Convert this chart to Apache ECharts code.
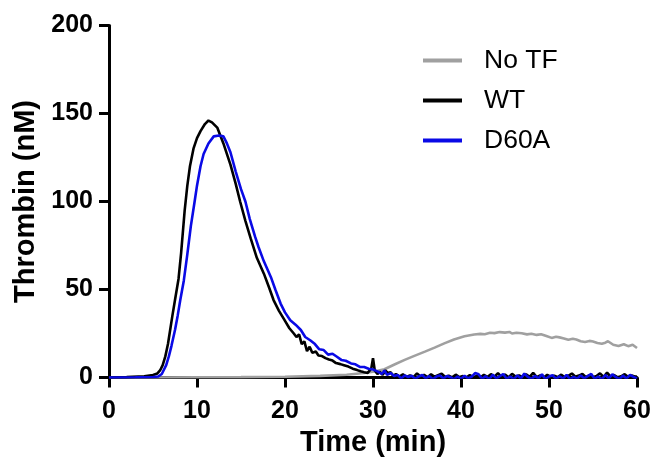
<!DOCTYPE html>
<html>
<head>
<meta charset="utf-8">
<script src="https://cdn.jsdelivr.net/npm/echarts@6/dist/echarts.min.js"></script>
<style>
  html, body { margin: 0; padding: 0; background: #fff; }
  #chart { width: 653px; height: 460px; }
</style>
</head>
<body>
<div id="chart"></div>
<script>
var chartDom = document.getElementById('chart');
var myChart = echarts.init(chartDom);

var seriesNames = ['No TF', 'WT', 'D60A'];
var seriesColors = ['#a0a0a0', '#000000', '#0a0ae6'];
var xTicks = [0, 10, 20, 30, 40, 50, 60];
var yTicks = [0, 50, 100, 150, 200];

// [time (min), thrombin (nM)]
var noTF = [[0,0],[5,0],[10,0.1],[15,0.2],[20,0.4],[24,0.9],[27,1.6],[29,2.6],[30,3.3],[31.3,4.7],
  [32.5,7.5],[33.6,10],[34.7,12.3],[35.9,14.7],[37,17],[38.1,19.4],[39.2,21.6],[40.4,23.4],
  [41.5,24.4],[42.2,24.8],[42.7,24.6],[43.3,25.4],[43.8,25.2],[44.4,25.8],[45,25.5],[45.5,25.9],
  [45.8,25],[46.3,25.4],[46.9,25.1],[47.5,24.5],[48,24.9],[48.6,24.2],[49.1,24.6],[49.7,23.6],
  [50.3,22.5],[50.8,23.2],[51.2,22.8],[51.7,22.2],[52.2,21.5],[52.7,22],[53.1,21.6],[53.6,20.6],
  [54.1,20.2],[54.6,20.8],[55,20.4],[55.5,19.6],[56,19.2],[56.4,19.8],[56.7,20.6],[57.3,18.6],
  [57.9,17.9],[58.5,18.9],[59,17.8],[59.5,18.6],[60,16.8]];

var wt = [[0,0],[2,0.2],[4,0.7],[5,1.4],[5.5,2.3],[5.8,4],[6.1,7],[6.4,12],[6.7,19],[6.95,27],
  [7.2,35],[7.5,44],[7.9,56],[8.2,71],[8.6,95],[8.9,109],[9.2,120],[9.6,130],[10.0,136],[10.4,140],
  [10.9,144],[11.3,146],[11.7,145],[12.3,142],[13.0,133],[13.8,121],[14.4,110],[14.9,100],
  [15.5,89],[16.1,79],[16.8,68],[17.6,59],[18.2,51],[18.7,44],[19.3,38],[19.9,33],[20.5,28],
  [21.0,25],[21.3,23],[21.6,24.5],[21.9,19],[22.2,20.5],[22.5,15],[22.8,17.5],[23.1,14],
  [23.5,14.8],[23.8,12.5],[24.2,12.2],[24.6,11],[25.0,10.2],[25.4,9.6],[25.8,8.2],[26.3,7.6],
  [26.7,7],[27.2,6.2],[27.7,5],[28.2,4.2],[28.6,3.5],[29.0,3],[29.4,2.6],[29.8,5],[30.0,11],
  [30.2,4],[30.5,2],[30.8,3.2],[31.1,1.5],[31.4,4],[31.7,2.5],[32.0,3],[32.3,1],
  [32.6,2],[33.0,0.5],[33.4,1.8],[33.8,0.3],[34.2,1.2],[34.6,0.2],[35.0,2.3],[35.4,0.6],
  [35.8,1.5],[36.2,0.1],[36.6,1.8],[37.0,0.4],[37.4,1.3],[37.8,2.2],[38.2,0.3],[38.6,1.0],
  [39.0,0.1],[39.4,1.6],[39.8,0.2],[40.2,0.8],[40.6,0],[41.0,1.4],[41.4,0.2],[41.8,0.9],
  [42.2,0],[42.6,1.5],[43.0,0.3],[43.4,1.9],[43.8,0.5],[44.2,2.4],[44.6,0.4],[45.0,1.7],
  [45.4,0.1],[45.8,2.1],[46.2,0.6],[46.6,1.2],[47.0,0.2],[47.4,1.8],[47.8,0.4],[48.2,2.6],
  [48.6,0.2],[49.0,1.2],[49.4,0],[49.8,1.5],[50.2,0.3],[50.6,1.0],[51.0,0.2],[51.4,1.6],
  [51.8,0.1],[52.2,0.9],[52.6,2.3],[53.0,0.4],[53.4,1.1],[53.8,2.0],[54.2,0.2],[54.6,1.3],
  [55.0,0.1],[55.4,0.8],[55.8,2.4],[56.2,0.3],[56.6,2.8],[57.0,0.5],[57.4,1.4],[57.8,0.1],
  [58.2,0.7],[58.6,1.9],[59.0,0.3],[59.4,1.2],[59.8,0.4],[60,0.8]];

var d60a = [[0,0],[3,0.1],[5,0.3],[5.6,0.6],[6.0,2],[6.2,3],[6.5,7],[6.8,12],[7.1,18],[7.5,27],
  [7.8,35],[8.1,44],[8.5,55],[8.9,70],[9.3,86],[9.7,99],[10.0,109],[10.4,120],[10.75,127],
  [11.3,133],[11.9,137],[12.5,137.5],[13.0,137],[13.4,133],[13.8,128],[14.4,117],[15.0,107],
  [15.5,100],[16.0,90],[16.6,80],[17.0,74],[17.6,66],[18.4,57],[18.9,50],[19.5,42],[20.0,37],
  [20.6,32.5],[21.2,30],[21.8,27],[22.3,23],[22.9,21],[23.4,19],[23.9,16],[24.4,15.6],
  [24.9,13],[25.4,13.5],[25.9,11.8],[26.4,10],[26.9,9.5],[27.5,8],[28.0,7.5],[28.5,6],
  [29.0,6],[29.5,5],[30.0,4.5],[30.5,3.5],[31.0,2],[31.3,4],[31.6,1.5],[32.0,2.5],[32.4,0.8],
  [32.8,1.5],[33.2,-0.5],[33.6,1.2],[34.0,0.3],[34.4,1.0],[34.8,-0.8],[35.2,0.6],[35.6,1.4],
  [36.0,-0.5],[36.4,0.8],[36.8,-1],[37.2,0.5],[37.6,1.1],[38.0,-0.6],[38.4,0.9],[38.8,0.2],
  [39.2,-1],[39.6,0.6],[40.0,-0.8],[40.4,1.0],[40.8,-0.5],[41.2,0.4],[41.6,2.5],[42.0,1.8],
  [42.4,-0.7],[42.8,0.8],[43.2,-1],[43.6,1.6],[44.0,-0.5],[44.4,0.7],[44.8,2.0],[45.2,-0.8],
  [45.6,0.5],[46.0,-1],[46.4,1.2],[46.8,-0.6],[47.2,2.2],[47.6,0.3],[48.0,-0.9],[48.4,0.9],
  [48.8,-0.5],[49.2,1.8],[49.6,-1],[50.0,0.6],[50.4,1.3],[50.8,-0.8],[51.2,0.7],[51.6,-0.6],
  [52.0,1.5],[52.4,-1],[52.8,0.4],[53.2,-0.7],[53.6,1.2],[54.0,-0.5],[54.4,0.8],[54.8,2.0],
  [55.2,-0.8],[55.6,0.6],[56.0,-1],[56.4,1.4],[56.8,-0.5],[57.2,1.8],[57.6,0.2],[58.0,-0.9],
  [58.4,1.1],[58.8,-0.6],[59.2,1.5],[59.6,0.3],[60,-0.5]];

var seriesData = [noTF, wt, d60a];

var labelFont = "'Liberation Sans', Arial, sans-serif";

var axisCommon = {
  axisLine: { show: true, onZero: false, lineStyle: { color: '#000', width: 3 } },
  axisTick: { show: true, inside: false, length: 10, lineStyle: { color: '#000', width: 3 } },
  axisLabel: { color: '#000', fontSize: 25, fontWeight: 'bold', fontFamily: labelFont },
  splitLine: { show: false },
  nameTextStyle: { color: '#000', fontSize: 29, fontWeight: 'bold', fontFamily: labelFont }
};

var option = {
  animation: false,
  backgroundColor: '#fff',
  grid: { left: 109, right: 16, top: 25.5, bottom: 82.5, containLabel: false, outerBoundsMode: 'none' },
  legend: {
    orient: 'vertical',
    left: 418,
    top: 42,
    itemWidth: 39,
    itemHeight: 4,
    itemGap: 13,
    icon: 'rect',
    data: seriesNames,
    textStyle: {
      color: '#000', fontSize: 26.5, lineHeight: 27,
      fontFamily: "'Liberation Sans', Arial, sans-serif",
      padding: [0, 0, 0, 17]
    }
  },
  xAxis: Object.assign({}, axisCommon, {
    type: 'value',
    min: xTicks[0], max: xTicks[xTicks.length - 1], interval: 10,
    name: 'Time (min)', nameLocation: 'middle', nameGap: 49,
    axisLabel: Object.assign({}, axisCommon.axisLabel, { margin: 21 })
  }),
  yAxis: Object.assign({}, axisCommon, {
    type: 'value',
    min: yTicks[0], max: yTicks[yTicks.length - 1], interval: 50,
    name: 'Thrombin (nM)', nameLocation: 'middle', nameGap: 66,
    axisLabel: Object.assign({}, axisCommon.axisLabel, { margin: 16 })
  }),
  series: seriesNames.map(function (name, i) {
    return {
      name: name,
      type: 'line',
      data: seriesData[i],
      showSymbol: false,
      symbol: 'none',
      clip: true,
      color: seriesColors[i],
      lineStyle: { color: seriesColors[i], width: 2.6 },
      z: 3 + i
    };
  })
};

myChart.setOption(option);
</script>
</body>
</html>
